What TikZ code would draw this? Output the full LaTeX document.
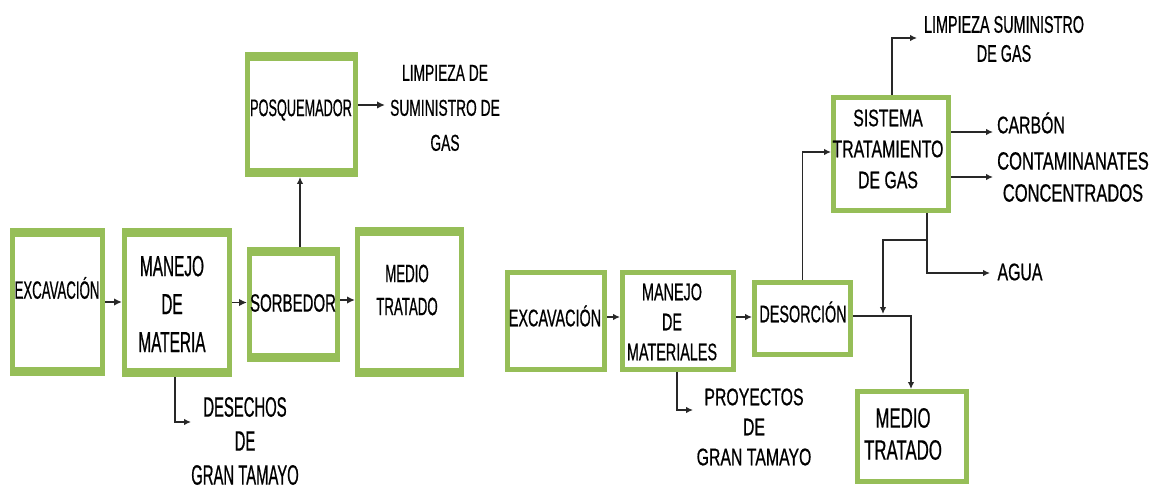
\documentclass[tikz,border=0pt]{standalone}
\usepackage{fontspec}
\setmainfont{Liberation Sans}
\newfontfamily\fA{Liberation Sans}[FakeStretch=0.53,FakeBold=0.6]
\newfontfamily\fB{Liberation Sans}[FakeStretch=0.6,FakeBold=0.6]
\newfontfamily\fC{Liberation Sans}[FakeStretch=0.66,FakeBold=0.6]
\usetikzlibrary{arrows.meta}
\definecolor{boxgreen}{RGB}{150,190,88}
\definecolor{linegray}{RGB}{40,40,40}
\begin{document}
\begin{tikzpicture}[x=1pt,y=-1pt,
  gbox/.style={draw=boxgreen, line width=5pt, fill=white, inner sep=0pt, outer sep=2.5pt},
  txt/.style={inner sep=0pt, align=center, text=black},
  arr/.style={draw=linegray, line width=1.3pt, -{Latex[length=7pt,width=6.5pt]}},
  thickarr/.style={arr, line width=1.8pt, -{Latex[length=8pt,width=7.5pt]}}]
\fill[white] (0,0) rectangle (1158,489);
\useasboundingbox (0,0) rectangle (1158,489);

% ---------- left diagram ----------
\node[gbox, minimum width=90pt, minimum height=143pt] (ex1) at (57.5,302) {};
\node[gbox, minimum width=105pt, minimum height=144pt] (mm1) at (177,302.5) {};
\node[gbox, minimum width=88pt, minimum height=110pt] (sor) at (293.5,304.5) {};
\node[gbox, minimum width=104pt, minimum height=145pt] (med1) at (409.5,302) {};
\node[gbox, minimum width=108pt, minimum height=120pt] (pos) at (301.5,114.5) {};
\foreach \b in {ex1,mm1,sor,med1,pos}{
  \fill[boxgreen] (\b.north west) rectangle ([yshift=-9pt]\b.north east);
  \fill[boxgreen] ([yshift=9pt]\b.south west) rectangle (\b.south east);
}

\node[txt, font=\fA\fontsize{25}{30}\selectfont] (tex1) at (57,288) {EXCAVACIÓN};
\node[txt, font=\fA\fontsize{29}{38}\selectfont] (tmm1) at (172,304) {MANEJO\\DE\\MATERIA};
\node[txt, font=\fB\fontsize{25}{30}\selectfont] (tsor) at (293,303) {SORBEDOR};
\node[txt, font=\fA\fontsize{25}{33}\selectfont] (tmed1) at (407,290) {MEDIO\\TRATADO};
\node[txt, font=\fA\fontsize{24}{30}\selectfont] (tpos) at (301,110) {POSQUEMADOR};
\node[txt, font=\fB\fontsize{23}{35}\selectfont] (lim1) at (445,108) {LIMPIEZA DE\\SUMINISTRO DE\\GAS};
\node[txt, font=\fA\fontsize{28}{34}\selectfont] (des1) at (245,441) {DESECHOS\\DE\\GRAN TAMAYO};

\coordinate (lim1a) at (385,105);
\coordinate (des1a) at (191,422);

\draw[thickarr] (ex1.east) -- (ex1.east -| mm1.west);
\draw[thickarr] (mm1.east) -- (mm1.east -| sor.west);
\draw[thickarr] ([yshift=4.5pt]sor.east) -- ([yshift=4.5pt]sor.east -| med1.west);
\draw[arr] ([xshift=6.5pt]sor.north) -- ([xshift=6.5pt]sor.north |- pos.south);
\draw[thickarr] (pos.east |- lim1a) -- (lim1a);
\draw[arr] ([xshift=-2pt]mm1.south) |- (des1a);

% ---------- right diagram ----------
\node[gbox, minimum width=97pt, minimum height=97pt] (ex2) at (556,321) {};
\node[gbox, minimum width=111pt, minimum height=97pt] (mm2) at (678,321) {};
\node[gbox, minimum width=96pt, minimum height=72pt] (des) at (802.5,318.5) {};
\node[gbox, minimum width=115pt, minimum height=113pt] (sis) at (891,154) {};
\node[gbox, minimum width=109pt, minimum height=90pt] (med2) at (912,436.5) {};

\node[txt, font=\fB\fontsize{24}{30}\selectfont] (tex2) at (555,316) {EXCAVACIÓN};
\node[txt, font=\fB\fontsize{24}{30}\selectfont] (tmm2) at (672,322) {MANEJO\\DE\\MATERIALES};
\node[txt, font=\fB\fontsize{24}{30}\selectfont] (tdes) at (803,312) {DESORCIÓN};
\node[txt, font=\fC\fontsize{24}{31}\selectfont] (tsis) at (888,149) {SISTEMA\\TRATAMIENTO\\DE GAS};
\node[txt, font=\fB\fontsize{28}{32}\selectfont] (tmed2) at (903,434) {MEDIO\\TRATADO};
\node[txt, font=\fB\fontsize{24}{29}\selectfont] (lim2) at (1004,39) {LIMPIEZA SUMINISTRO\\DE GAS};
\node[txt, font=\fC\fontsize{24}{30}\selectfont] (carbon) at (1031,123) {CARBÓN};
\node[txt, font=\fC\fontsize{25}{32}\selectfont] (cont) at (1073,177) {CONTAMINANATES\\CONCENTRADOS};
\node[txt, font=\fC\fontsize{24}{30}\selectfont] (agua) at (1020,272) {AGUA};
\node[txt, font=\fC\fontsize{24}{30}\selectfont] (proy) at (754,427) {PROYECTOS\\DE\\GRAN TAMAYO};

\coordinate (lim2a) at (917,38);
\coordinate (carba) at (993,132);
\coordinate (conta) at (993,177);
\coordinate (aguaa) at (990,273);
\coordinate (br) at (927,240);
\coordinate (brend) at (883,314);
\coordinate (proya) at (693,410);

\draw[arr] ([yshift=4pt]ex2.east) -- ([yshift=4pt]ex2.east -| mm2.west);
\draw[arr] ([yshift=4pt]mm2.east) -- ([yshift=4pt]mm2.east -| des.west);
\draw[arr] (des.north) |- ([yshift=2pt]sis.west);
\draw[arr] ([xshift=1pt]sis.north) |- (lim2a);
\draw[arr] (sis.east |- carba) -- (carba);
\draw[arr] (sis.east |- conta) -- (conta);
\draw[arr] ([xshift=36pt]sis.south) |- (aguaa);
\draw[arr] (br) -| (brend);
\draw[arr] ([yshift=2.5pt]des.east) -| ([xshift=-1pt]med2.north);
\draw[arr] ([xshift=-1pt]mm2.south) |- (proya);
\end{tikzpicture}
\end{document}
